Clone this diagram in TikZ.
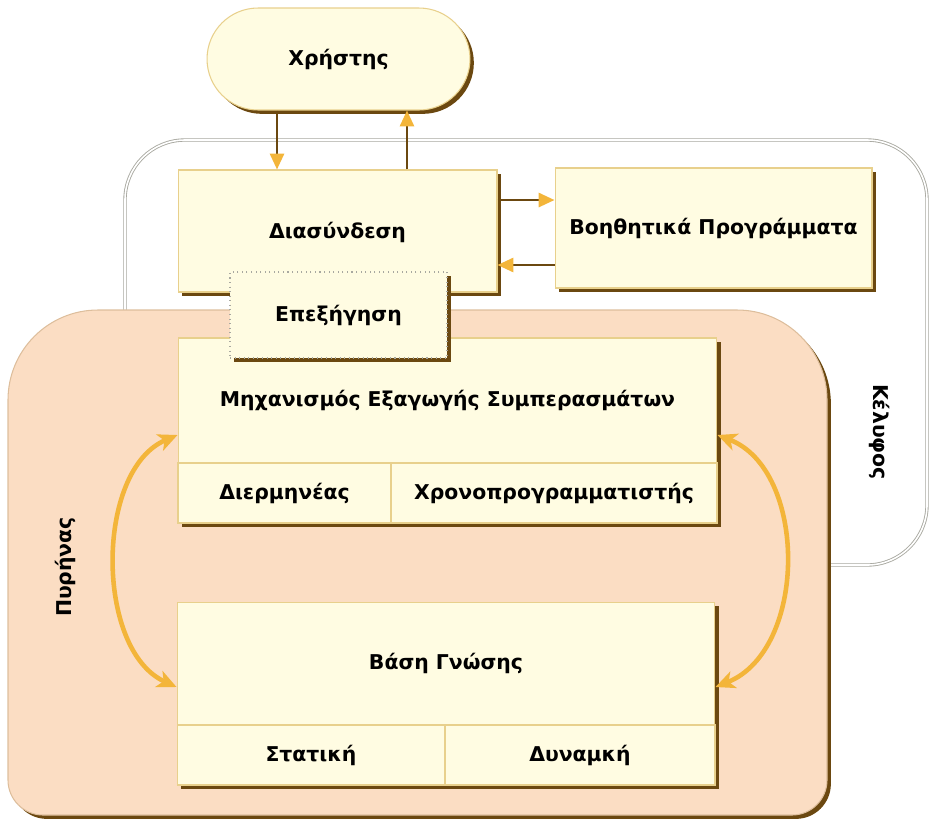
\documentclass[tikz,border=0pt]{standalone}
\usepackage{fontspec}
\setmainfont{DejaVu Sans}
\usepackage{xcolor}
\definecolor{cream}{HTML}{FFFCE2}
\definecolor{boxedge}{HTML}{E8D08C}
\definecolor{shadowbrown}{HTML}{6B4810}
\definecolor{peach}{HTML}{FBDDC3}
\definecolor{peachedge}{HTML}{DDBE9C}
\definecolor{arrowgold}{HTML}{F3B53A}
\definecolor{shellgrey}{HTML}{A8A8A0}
\usepackage{tikz}
\usetikzlibrary{arrows.meta,shadows,calc}

\begin{document}
\begin{tikzpicture}[x=0.02cm, y=-0.02cm,
    brshadow/.style={general shadow={fill=shadowbrown, shadow xshift=2.2pt, shadow yshift=-2.2pt}},
    block/.style={draw=boxedge, fill=cream, line width=0.6pt, inner sep=0pt, brshadow,
      font=\bfseries\fontsize{11.6}{13}\selectfont},
    note/.style={block, draw=shellgrey, dotted},
    tag/.style={font=\bfseries\fontsize{11.6}{13}\selectfont},
    flow/.style={draw=shadowbrown, line width=1.4pt,
      -{Triangle[length=9pt, width=8pt, fill=arrowgold, color=arrowgold]}},
    cycle arrow/.style={draw=arrowgold, line width=2.6pt,
      {Stealth[length=11pt, width=10pt, inset=3pt]}-{Stealth[length=11pt, width=10pt, inset=3pt]}}]
  \useasboundingbox (0,0) rectangle (929,826);

  % Shell
  \draw[draw=shellgrey, double=white, double distance=0.9pt, line width=0.5pt, rounded corners=1.2cm]
    (125,140) rectangle (927,565);
  \node[tag, rotate=-90] (shelltag) at (880,432) {Κέλυφος};

  % Core
  \fill[peach, draw=peachedge, line width=0.6pt, brshadow]
    (420,815) [rounded corners=0.7cm] -- (8,815) [rounded corners=1.8cm] -- (8,310)
    -- (827,310) [rounded corners=0.7cm] -- (827,815) -- cycle;
  \node[tag, rotate=90] (coretag) at (65,567) {Πυρήνας};

  % User and interface
  \node[block, rounded corners=1.02cm, minimum width=5.26cm, minimum height=2.04cm]
    (user) at (338.5,59) {Χρήστης};
  \node[block, minimum width=6.38cm, minimum height=2.44cm] (iface) at (337.5,231) {};
  \node[tag] (ifacetext) at (337.5,232) {Διασύνδεση};
  \node[block, minimum width=6.34cm, minimum height=2.4cm] (utils) at (713.5,228)
    {Βοηθητικά Προγράμματα};

  % Inference engine
  \node[block, minimum width=10.78cm, minimum height=2.5cm] (engine) at (447.5,400.5)
    {Μηχανισμός Εξαγωγής Συμπερασμάτων};
  \node[block, minimum width=4.26cm, minimum height=1.2cm] (interp) at (284.5,493) {Διερμηνέας};
  \node[block, minimum width=6.52cm, minimum height=1.2cm] (sched) at (554,493) {Χρονοπρογραμματιστής};

  % Knowledge base
  \node[block, minimum width=10.76cm, minimum height=2.46cm] (kb) at (446,663.5) {Βάση Γνώσης};
  \node[block, minimum width=5.36cm, minimum height=1.2cm] (stat) at (311,755) {Στατική};
  \node[block, minimum width=5.4cm, minimum height=1.2cm] (dyn) at (580,755) {Δυναμκή};

  % Explanation
  \node[note, minimum width=4.34cm, minimum height=1.72cm] (expl) at (338.5,315) {Επεξήγηση};

  % Connectors
  \draw[flow] ([xshift=-1.23cm]user.south) -- ([xshift=-1.23cm]user.south |- iface.north);
  \draw[flow] ([xshift=1.37cm]user.south |- iface.north) -- ([xshift=1.37cm]user.south);
  \draw[flow] ([yshift=0.62cm]iface.east) -- ([yshift=0.62cm]iface.east -| utils.west);
  \draw[flow] ([yshift=-0.68cm]iface.east -| utils.west) -- ([yshift=-0.68cm]iface.east);
  \draw[cycle arrow] ([yshift=-0.69cm]engine.west) .. controls (95,470) and (95,650)
    .. ([yshift=-0.47cm]kb.west);
  \draw[cycle arrow] ([yshift=-0.47cm]kb.east) .. controls (808,650) and (808,470)
    .. ([yshift=-0.69cm]engine.east);
\end{tikzpicture}
\end{document}
